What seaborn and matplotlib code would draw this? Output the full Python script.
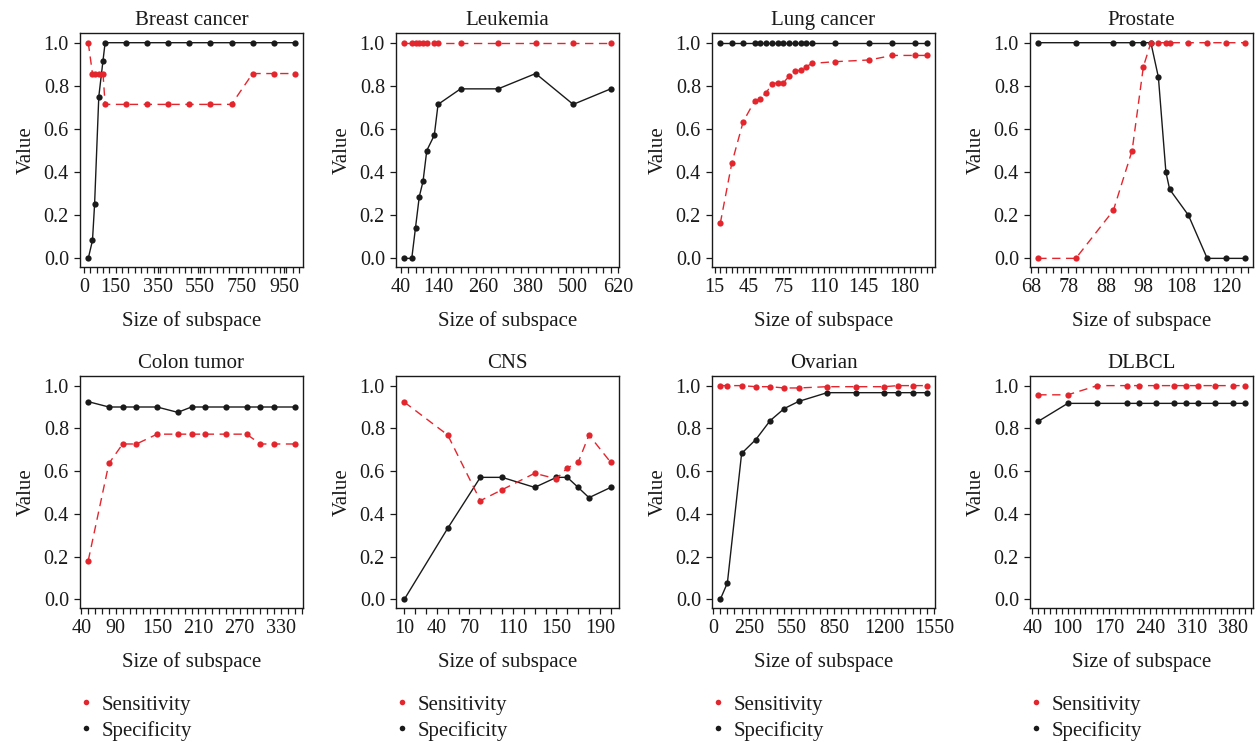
import matplotlib
matplotlib.use("Agg")
import matplotlib.pyplot as plt
from matplotlib.lines import Line2D
from matplotlib.ticker import MultipleLocator
import seaborn as sns

# --- data ---
breast_x = [20, 40, 50, 70, 90, 100, 200, 300, 400, 500, 600, 700, 800, 900, 1000]
breast_sens = [1.0, 0.857, 0.857, 0.857, 0.857, 0.714, 0.714, 0.714, 0.714, 0.714, 0.714, 0.714, 0.857, 0.857, 0.857]
breast_spec = [0.0, 0.083, 0.25, 0.75, 0.917, 1.0, 1.0, 1.0, 1.0, 1.0, 1.0, 1.0, 1.0, 1.0, 1.0]
breast_ticks = [0, 150, 350, 550, 750, 950]

leuk_x = [50, 70, 80, 90, 100, 110, 130, 140, 200, 300, 400, 500, 600]
leuk_sens = [1.0] * 13
leuk_spec = [0.0, 0.0, 0.143, 0.286, 0.357, 0.5, 0.571, 0.714, 0.786, 0.786, 0.857, 0.714, 0.786]
leuk_ticks = [40, 140, 260, 380, 500, 620]

lung_x = [20, 30, 40, 50, 55, 60, 65, 70, 75, 80, 85, 90, 95, 100, 120, 150, 170, 190, 200]
lung_sens = [0.162, 0.44, 0.634, 0.73, 0.74, 0.768, 0.807, 0.815, 0.815, 0.844, 0.867, 0.873, 0.889,
             0.904, 0.912, 0.92, 0.941, 0.941, 0.941]
lung_spec = [1.0] * 19
lung_ticks = [15, 45, 75, 110, 145, 180]

prost_x = [70, 80, 90, 95, 98, 100, 102, 104, 105, 110, 115, 120, 125]
prost_sens = [0.0, 0.0, 0.222, 0.5, 0.889, 1.0, 1.0, 1.0, 1.0, 1.0, 1.0, 1.0, 1.0]
prost_spec = [1.0, 1.0, 1.0, 1.0, 1.0, 1.0, 0.84, 0.4, 0.32, 0.2, 0.0, 0.0, 0.0]
prost_ticks = [68, 78, 88, 98, 108, 120]

colon_x = [50, 80, 100, 120, 150, 180, 200, 220, 250, 280, 300, 320, 350]
colon_sens = [0.182, 0.636, 0.727, 0.727, 0.773, 0.773, 0.773, 0.773, 0.773, 0.773, 0.727, 0.727, 0.727]
colon_spec = [0.925, 0.9, 0.9, 0.9, 0.9, 0.875, 0.9, 0.9, 0.9, 0.9, 0.9, 0.9, 0.9]
colon_ticks = [40, 90, 150, 210, 270, 330]

cns_x = [10, 50, 80, 100, 130, 150, 160, 170, 180, 200]
cns_sens = [0.923, 0.769, 0.462, 0.513, 0.59, 0.564, 0.615, 0.641, 0.769, 0.641]
cns_spec = [0.0, 0.333, 0.571, 0.571, 0.524, 0.571, 0.571, 0.524, 0.476, 0.524]
cns_ticks = [10, 40, 70, 110, 150, 190]

ovar_x = [50, 100, 200, 300, 400, 500, 600, 800, 1000, 1200, 1300, 1400, 1500]
ovar_sens = [1.0, 1.0, 1.0, 0.995, 0.995, 0.989, 0.989, 0.995, 0.995, 0.995, 1.0, 1.0, 1.0]
ovar_spec = [0.0, 0.077, 0.683, 0.748, 0.836, 0.893, 0.926, 0.967, 0.967, 0.967, 0.967, 0.967, 0.967]
ovar_ticks = [0, 250, 550, 850, 1200, 1550]

dlbcl_x = [50, 100, 150, 200, 220, 250, 280, 300, 320, 350, 380, 400]
dlbcl_sens = [0.957, 0.957, 1.0, 1.0, 1.0, 1.0, 1.0, 1.0, 1.0, 1.0, 1.0, 1.0]
dlbcl_spec = [0.833, 0.917, 0.917, 0.917, 0.917, 0.917, 0.917, 0.917, 0.917, 0.917, 0.917, 0.917]
dlbcl_ticks = [40, 100, 170, 240, 310, 380]

panels = [
    ("Breast cancer", breast_x, breast_sens, breast_spec, breast_ticks, 30),
    ("Leukemia", leuk_x, leuk_sens, leuk_spec, leuk_ticks, 20),
    ("Lung cancer", lung_x, lung_sens, lung_spec, lung_ticks, 5),
    ("Prostate", prost_x, prost_sens, prost_spec, prost_ticks, 2),
    ("Colon tumor", colon_x, colon_sens, colon_spec, colon_ticks, 10),
    ("CNS", cns_x, cns_sens, cns_spec, cns_ticks, 10),
    ("Ovarian", ovar_x, ovar_sens, ovar_spec, ovar_ticks, 50),
    ("DLBCL", dlbcl_x, dlbcl_sens, dlbcl_spec, dlbcl_ticks, 10),
]

RED = "#e3262e"
BLACK = "#1a1a1a"

sns.set_style("ticks")
plt.rcParams["font.family"] = ["Liberation Serif", "DejaVu Serif"]
plt.rcParams["axes.linewidth"] = 1.0

W, H = 1256, 743
fig = plt.figure(figsize=(W / 100, H / 100), dpi=100)

lefts = [80, 396, 712, 1030]
rows = [(33, 267), (376, 608)]

for i, (title, x, sens, spec, ticks, minor) in enumerate(panels):
    r, c = divmod(i, 4)
    top, bot = rows[r]
    ax = fig.add_axes([lefts[c] / W, 1 - bot / H, 223 / W, (bot - top) / H])

    sns.lineplot(x=x, y=spec, ax=ax, color=BLACK, lw=1.0, marker="o",
                 markersize=4.5, markeredgewidth=0, estimator=None)
    sns.lineplot(x=x, y=sens, ax=ax, color=RED, lw=1.0, linestyle=(0, (6, 4)),
                 marker="o", markersize=4.5, markeredgewidth=0, estimator=None)

    span = max(x) - min(x)
    ax.set_xlim(min(x) - 0.04 * span, max(x) + 0.04 * span)
    ax.set_ylim(-0.04, 1.045)
    ax.set_yticks([0, 0.2, 0.4, 0.6, 0.8, 1.0])
    ax.set_yticklabels(["0.0", "0.2", "0.4", "0.6", "0.8", "1.0"])
    ax.set_xticks(ticks)
    ax.xaxis.set_minor_locator(MultipleLocator(minor))
    ax.tick_params(axis="both", which="major", labelsize=14.5, length=4, width=0.9,
                   color=BLACK, labelcolor=BLACK, pad=4)
    ax.tick_params(axis="x", which="minor", length=4, width=0.9, color=BLACK)
    for s in ax.spines.values():
        s.set_color(BLACK)
    ax.set_title(title, fontsize=15, color=BLACK, pad=6)
    ax.set_xlabel("Size of subspace", fontsize=15, color=BLACK, labelpad=10)
    ax.set_ylabel("Value", fontsize=15, color=BLACK, labelpad=6)

    if r == 1:
        handles = [
            Line2D([], [], color=RED, marker="o", linestyle="none", markersize=4, markeredgewidth=0),
            Line2D([], [], color=BLACK, marker="o", linestyle="none", markersize=4, markeredgewidth=0),
        ]
        leg = ax.legend(handles, ["Sensitivity", "Specificity"], loc="upper left",
                        bbox_to_anchor=(-0.01, -0.375), frameon=False, fontsize=15,
                        handlelength=0.8, handletextpad=0.35, labelspacing=0.3,
                        borderpad=0, borderaxespad=0)
        for t in leg.get_texts():
            t.set_color(BLACK)

fig.savefig("out.png", dpi=100)
